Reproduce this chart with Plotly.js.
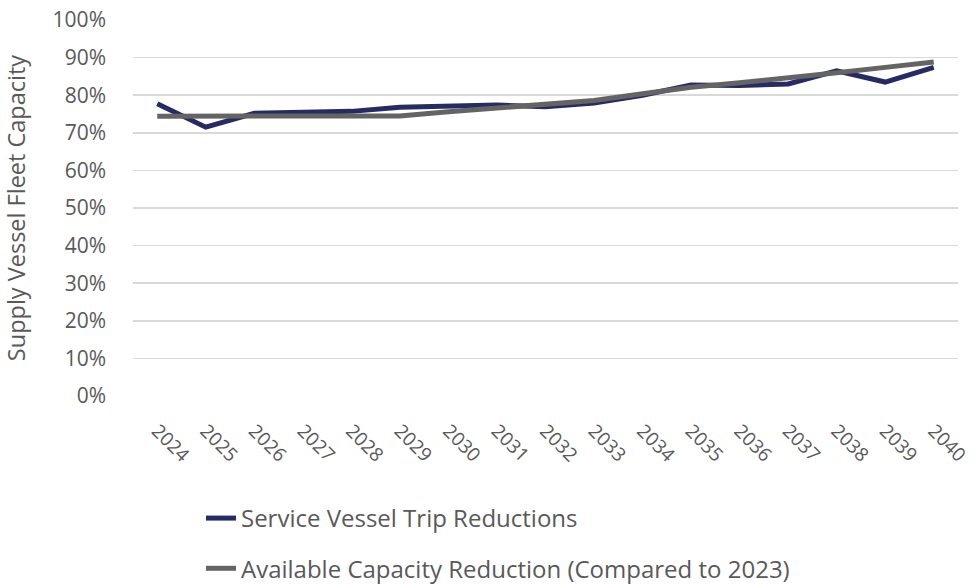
<!DOCTYPE html>
<html>
<head>
<meta charset="utf-8">
<script src="https://cdn.plot.ly/plotly-3.0.1.min.js"></script>
<style>
  html, body { margin: 0; padding: 0; background: #ffffff; }
  #chart { width: 976px; height: 586px; }
</style>
</head>
<body>
<div id="chart"></div>
<script>
// Years on the category axis
const years = ['2024', '2025', '2026', '2027', '2028', '2029', '2030', '2031', '2032',
               '2033', '2034', '2035', '2036', '2037', '2038', '2039', '2040'];

// Share of supply vessel fleet capacity (%)
const tripReductions = [77.7, 71.5, 75.2, 75.6, 75.7, 76.8, 77.2, 77.4, 76.9,
                        77.9, 80.0, 82.7, 82.6, 83.0, 86.5, 83.5, 87.4];
const capacityReduction = [74.4, 74.4, 74.4, 74.4, 74.4, 74.5, 75.6, 76.6, 77.4,
                           78.6, 80.4, 82.1, 83.3, 84.5, 86.0, 87.4, 88.8];

// Y-axis tick values and labels
const yTickVals = [0, 10, 20, 30, 40, 50, 60, 70, 80, 90, 100];
const yTickText = ['0%', '10%', '20%', '30%', '40%', '50%', '60%', '70%', '80%', '90%', '100%'];

const seriesNames = ['Service Vessel Trip Reductions', 'Available Capacity Reduction (Compared to 2023)'];

const textColor = '#595959';
const fontFamily = '"Open Sans", "Noto Sans", sans-serif';

const traces = [
  {
    x: years, y: tripReductions, name: seriesNames[0], type: 'scatter', mode: 'lines',
    line: { color: '#262B63', width: 5 }, legendgroup: 'a'
  },
  {
    x: years, y: capacityReduction, name: seriesNames[1], type: 'scatter', mode: 'lines',
    line: { color: '#646464', width: 5 }, legendgroup: 'b'
  }
];

const layout = {
  width: 976, height: 586,
  margin: { l: 133, r: 18, t: 20, b: 189.5 },
  paper_bgcolor: '#ffffff', plot_bgcolor: '#ffffff',
  font: { family: fontFamily, color: textColor, size: 18 },
  showlegend: true,
  xaxis: {
    type: 'category', range: [-0.5, 16.5], tickangle: 45, showgrid: false, zeroline: false,
    showline: false, ticks: '', ticklabelstandoff: 19,
    tickfont: { size: 19, color: textColor }, fixedrange: true
  },
  yaxis: {
    range: [0, 100], tickvals: yTickVals, ticktext: yTickText,
    showgrid: true, gridcolor: '#D9D9D9', gridwidth: 1.5, zeroline: false,
    showline: false, ticks: '', ticklabelstandoff: 26,
    tickfont: { size: 21, color: textColor },
    title: { text: 'Supply Vessel Fleet Capacity', font: { size: 23.5, color: textColor }, standoff: 26 },
    fixedrange: true
  },
  legend: {
    x: 0.0824, xanchor: 'left',
    yref: 'container', y: 0.1536, yanchor: 'top',
    orientation: 'v', traceorder: 'grouped', tracegroupgap: 16,
    font: { size: 24, color: textColor }, bgcolor: 'rgba(0,0,0,0)'
  }
};

Plotly.newPlot('chart', traces, layout, { displayModeBar: false, staticPlot: true });
</script>
</body>
</html>
